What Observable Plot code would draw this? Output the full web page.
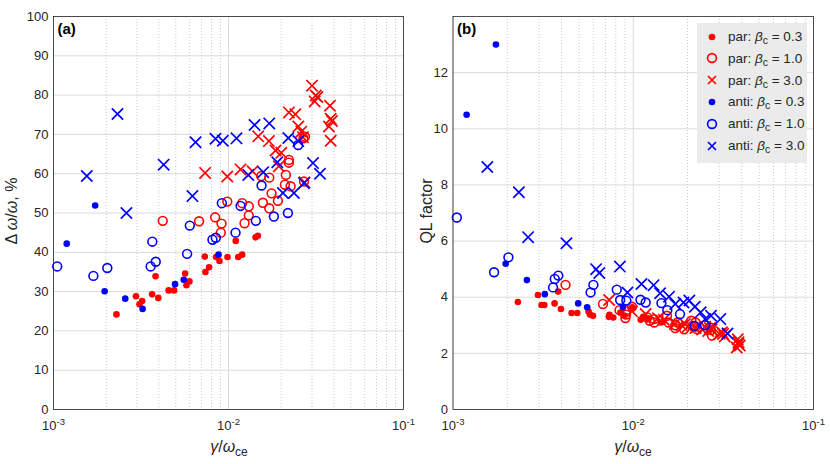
<!DOCTYPE html>
<html><head><meta charset="utf-8">
<script src="https://cdn.jsdelivr.net/npm/d3@7"></script>
<script src="https://cdn.jsdelivr.net/npm/@observablehq/plot@0.6"></script>
<style>
body{margin:0;background:#fff;font-family:"Liberation Sans",Arial,sans-serif;}
#wrap{position:relative;width:830px;height:464px;overflow:hidden;}
.panel{position:absolute;top:0;}
.lab{position:absolute;font-size:16px;line-height:18px;color:#262626;white-space:nowrap;}
.lab sub{font-size:12px;vertical-align:-4px;line-height:0;}
#legend{position:absolute;left:697px;top:23px;width:110px;height:140px;background:#ebebeb;}
#legend .row{position:absolute;left:0;height:22px;display:flex;align-items:center;font-size:13.5px;color:#262626;white-space:nowrap;}
#legend .row svg{margin-left:8px;margin-right:9px;}
#legend sub{font-size:10.5px;vertical-align:-3px;line-height:0;}
</style>
</head><body>
<div id="wrap">
  <div id="pa" class="panel" style="left:0"></div>
  <div id="pb" class="panel" style="left:415px"></div>
  <div class="lab" style="left:12px;top:211px;transform:translate(0,-50%) rotate(-90deg);transform-origin:center;width:0;display:flex;justify-content:center;"><span>Δ <i>ω</i>/<i>ω</i>, %</span></div>
  <div class="lab" style="left:427px;top:211px;transform:translate(0,-50%) rotate(-90deg);transform-origin:center;width:0;display:flex;justify-content:center;"><span>QL factor</span></div>
  <div class="lab" style="left:229px;top:438px;transform:translateX(-50%);"><i>γ</i>/<i>ω</i><sub>ce</sub></div>
  <div class="lab" style="left:633px;top:438px;transform:translateX(-50%);"><i>γ</i>/<i>ω</i><sub>ce</sub></div>
  <div id="legend"></div>
</div>
<script>
// ---- data ----
const xMajorTicks = [0.001, 0.01, 0.1];
const xMinorTicks = [0.002,0.003,0.004,0.005,0.006,0.007,0.008,0.009,0.02,0.03,0.04,0.05,0.06,0.07,0.08,0.09];
const dwTicks = [0,10,20,30,40,50,60,70,80,90,100];
const qlTicks = [0,2,4,6,8,10,12];

const par03Gamma = [0.00229,0.00296,0.0031,0.00321,0.00366,0.00383,0.00397,0.00455,0.00489,0.00565,0.00575,0.00598,0.00732,0.00738,0.00775,0.00849,0.00888,0.00987,0.0110,0.01136,0.01197,0.01428,0.01472];
const par03Dw    = [24.2,28.8,26.8,27.6,29.3,33.9,28.4,30.3,30.3,34.6,31.6,32.6,38.9,35.0,36.2,38.8,37.8,38.8,42.9,38.8,39.4,43.8,44.2];
const par03Ql    = [3.83,4.08,3.72,3.72,3.78,4.2,3.58,3.44,3.44,3.49,3.38,3.34,3.3,3.37,3.28,3.45,3.35,3.64,3.2,3.3,3.25,3.1,3.15];

const par10Gamma = [0.00421,0.00679,0.00839,0.00912,0.00904,0.00984,0.01197,0.01306,0.01306,0.01235,0.01572,0.0171,0.01916,0.01762,0.01538,0.0171,0.02128,0.021,0.02264,0.027,0.02215,0.02215,0.02735,0.0268];
const par10Dw    = [48.0,47.9,48.9,47.3,45.0,52.9,52.5,51.7,49.4,47.4,52.6,51.2,53.1,55.0,59.4,59.0,59.7,57.2,56.8,58.0,63.5,62.8,69.4,69.0];
const par10Ql    = [4.44,3.76,3.54,3.38,3.26,3.66,3.28,3.1,3.22,3.16,3.1,2.9,2.86,3.1,3.34,3.0,2.98,3.16,2.86,2.83,3.1,2.95,2.63,2.92];

const par30Gamma = [0.00735,0.00984,0.01172,0.01372,0.01479,0.01702,0.01858,0.02003,0.0194,0.02215,0.0241,0.02506,0.02607,0.02663,0.03,0.0315,0.0322,0.03107,0.038,0.03837,0.0375,0.03837,0.039,0.0272];
const par30Dw    = [60.2,59.3,61.1,60.6,69.5,68.3,65.9,65.3,61.9,75.6,75.1,72.0,70.7,69.3,82.4,79.9,79.5,78.4,77.3,74.0,72.0,68.4,73.4,57.8];
const par30Ql    = [3.9,3.5,3.4,3.25,3.2,3.05,3.0,2.95,3.05,2.9,2.85,2.95,2.8,2.9,2.7,2.69,2.6,2.75,2.5,2.33,2.21,2.4,2.28,2.85];

const anti03Gamma = [0.00119,0.00173,0.00196,0.00257,0.00323,0.00495,0.00555,0.00877];
const anti03Dw    = [42.2,51.9,30.1,28.2,25.6,31.9,33.0,39.4];
const anti03Ql    = [10.5,13.0,5.19,4.61,4.11,3.78,3.64,3.64];

const anti10Gamma = [0.00105,0.00169,0.00203,0.00359,0.00384,0.00367,0.0058,0.00601,0.0081,0.00846,0.01097,0.00916,0.01172,0.01433,0.01817,0.02185,0.01545,0.025];
const anti10Dw    = [36.4,34.0,36.0,36.4,37.6,42.7,39.6,46.8,43.2,43.7,45.0,52.5,51.8,48.0,49.1,50.0,57.0,67.3];
const anti10Ql    = [6.84,4.89,5.42,4.35,4.77,4.65,4.17,4.44,4.27,3.9,3.91,3.88,3.81,3.79,3.4,2.98,3.54,3.0];

const anti30Gamma = [0.00155,0.00232,0.00261,0.00426,0.00622,0.00648,0.00843,0.00928,0.01111,0.01409,0.0171,0.01297,0.0158,0.019,0.02047,0.02366,0.027,0.02197,0.02506,0.0304,0.03333];
const anti30Dw    = [59.4,75.2,50.0,62.3,54.3,68.0,68.9,68.4,69.0,72.4,72.8,59.7,60.4,62.9,55.1,55.1,57.6,69.1,68.3,62.7,60.0];
const anti30Ql    = [8.64,7.74,6.14,5.92,5.0,4.86,5.09,4.17,4.47,4.14,3.76,4.43,4.02,3.81,3.88,3.46,3.34,3.66,3.22,3.22,2.71];

const polarity = ["par","par","par","anti","anti","anti"];
const betaC    = ["0.3","1.0","3.0","0.3","1.0","3.0"];
const colors   = ["#ff0000","#ff0000","#ff0000","#0000ff","#0000ff","#0000ff"];
const markers  = ["dot","ring","cross","dot","ring","cross"];
const gammas   = [par03Gamma,par10Gamma,par30Gamma,anti03Gamma,anti10Gamma,anti30Gamma];
const dws      = [par03Dw,par10Dw,par30Dw,anti03Dw,anti10Dw,anti30Dw];
const qls      = [par03Ql,par10Ql,par30Ql,anti03Ql,anti10Ql,anti30Ql];

function markFor(i, ys) {
  const m = markers[i], c = colors[i], g = gammas[i];
  if (m === "dot") return Plot.dot(g, {x: g, y: ys, r: 3.3, fill: c, stroke: "none"});
  if (m === "ring") return Plot.dot(g, {x: g, y: ys, r: 4.4, fill: "none", stroke: c, strokeWidth: 1.6});
  return Plot.dot(g, {x: g, y: ys, r: 5.2, symbol: "times", fill: "none", stroke: c, strokeWidth: 1.7});
}

function panel(el, opts) {
  const svg = Plot.plot({
    width: 415, height: 464,
    marginLeft: opts.ml, marginRight: opts.mr, marginTop: 16, marginBottom: 55,
    style: {fontFamily: '"Liberation Sans", Arial, sans-serif', background: "transparent"},
    x: {type: "log", domain: [0.001, 0.1]},
    y: {domain: opts.domain},
    marks: [
      Plot.gridX(xMinorTicks, {stroke: "#c8c8c8", strokeOpacity: 1, strokeDasharray: "1,2"}),
      Plot.gridX(xMajorTicks, {stroke: "#dadada", strokeOpacity: 1}),
      Plot.gridY(opts.ticks, {stroke: "#dadada", strokeOpacity: 1}),
      Plot.axisX(xMajorTicks, {tickSize: 0, tickPadding: 11, fontSize: 13, color: "#262626",
        tickFormat: d => String(Math.round(Math.log10(d))), label: null}),
      Plot.axisY(opts.ticks, {tickSize: 0, tickPadding: 5, fontSize: 13, color: "#262626", label: null}),
      ...opts.ys.map((ys, i) => markFor(i, ys)),
      Plot.frame({stroke: "#262626", strokeWidth: 0.8}),
      Plot.text([opts.tag], {frameAnchor: "top-left", dx: 4, dy: 7, fontWeight: "bold", fontSize: 15,
        textAnchor: "start", lineAnchor: "top", fill: "#000"})
    ]
  });
  // superscript exponents on x tick labels
  d3.select(svg).selectAll('g[aria-label="x-axis tick label"] text').each(function() {
    const t = d3.select(this);
    const e = t.text();
    t.text("10");
    t.append("tspan").attr("dy", "-0.55em").attr("font-size", 9.5).text(e);
  });
  document.getElementById(el).appendChild(svg);
}

panel("pa", {ml: 53, mr: 12, domain: [0, 100], ticks: dwTicks, ys: dws, tag: "(a)"});
panel("pb", {ml: 37.5, mr: 17, domain: [0, 14], ticks: qlTicks, ys: qls, tag: "(b)"});

// legend
const legend = d3.select("#legend");
polarity.forEach((p, i) => {
  const row = legend.append("div").attr("class", "row").style("top", (2.5 + i * 21.8) + "px");
  const s = row.append("svg").attr("width", 14).attr("height", 14);
  const g = s.append("g").attr("transform", "translate(7,7)");
  if (markers[i] === "dot") g.append("circle").attr("r", 3.3).attr("fill", colors[i]);
  else if (markers[i] === "ring") g.append("circle").attr("r", 4.4).attr("fill", "none").attr("stroke", colors[i]).attr("stroke-width", 1.6);
  else g.append("path").attr("d", "M-4,-4L4,4M-4,4L4,-4").attr("stroke", colors[i]).attr("stroke-width", 1.7);
  row.append("span").html(`${p}: <i>β</i><sub>c</sub> = ${betaC[i]}`);
});
</script>
</body></html>
